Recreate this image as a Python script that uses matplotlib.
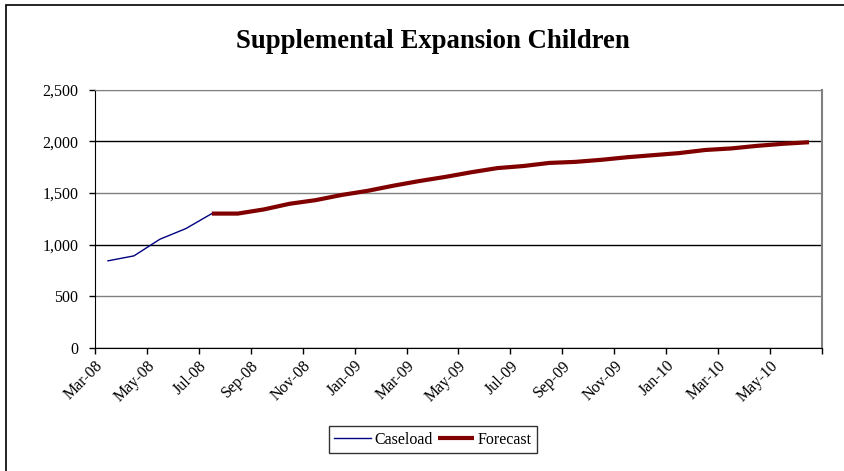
import matplotlib.pyplot as plt
from matplotlib.patches import Rectangle

months = ["Mar-08", "Apr-08", "May-08", "Jun-08", "Jul-08", "Aug-08", "Sep-08",
          "Oct-08", "Nov-08", "Dec-08", "Jan-09", "Feb-09", "Mar-09", "Apr-09",
          "May-09", "Jun-09", "Jul-09", "Aug-09", "Sep-09", "Oct-09", "Nov-09",
          "Dec-09", "Jan-10", "Feb-10", "Mar-10", "Apr-10", "May-10", "Jun-10"]
caseload = [843, 891, 1052, 1155, 1300]
forecast = [1300, 1300, 1340, 1395, 1430, 1480, 1520, 1570, 1615, 1655, 1700,
            1740, 1760, 1790, 1800, 1820, 1845, 1865, 1885, 1915, 1930, 1955,
            1975, 1990]
tick_labels = months[::2]

plt.rcParams['font.family'] = ['Liberation Serif', 'DejaVu Serif']

fig = plt.figure(figsize=(8.45, 4.71), dpi=100)
ax = fig.add_axes([95 / 845, 1 - 348 / 471, 727 / 845, 258.5 / 471])

x_case = list(range(len(caseload)))
x_fc = list(range(len(caseload) - 1, len(caseload) - 1 + len(forecast)))
ax.plot(x_case, caseload, color='#000080', lw=1.0, label='Caseload')
ax.plot(x_fc, forecast, color='#800000', lw=3.0, label='Forecast',
        solid_capstyle='butt')

ax.set_xlim(-0.5, len(months) - 0.5)
ax.set_ylim(0, 2500)
ax.set_yticks(range(0, 2501, 500))
ax.set_yticklabels([f"{v:,}" for v in range(0, 2501, 500)], fontsize=11.5)

ticks = [i - 0.5 for i in range(0, len(months) + 1, 2)]
ax.set_xticks(ticks)
ax.set_xticklabels(tick_labels + [""], rotation=45, ha='right',
                   rotation_mode='anchor', fontsize=11.5)
ax.tick_params(axis='x', length=4, width=1, pad=3)
ax.tick_params(axis='y', length=4, width=1, pad=8)

# horizontal grid, alternating dark / grey like the old spreadsheet export
ax.yaxis.grid(True, color='black', lw=1)
for i, gl in enumerate(ax.get_ygridlines()):
    if i % 2 == 1:
        gl.set_color('#808080')
ax.set_axisbelow(True)

ax.spines['left'].set_color('black')
ax.spines['bottom'].set_color('black')
ax.spines['top'].set_color('#808080')
ax.spines['right'].set_color('#808080')
ax.spines['right'].set_linewidth(1.5)

fig.text(433 / 845, 1 - 41 / 471, "Supplemental Expansion Children",
         ha='center', va='center', fontsize=19.3, fontweight='bold')

leg = fig.legend(loc='center', bbox_to_anchor=(433 / 845, 1 - 439.5 / 471),
                 ncol=2, fontsize=11.5, frameon=True, fancybox=False,
                 handlelength=2.3, handletextpad=0.2, columnspacing=0.3,
                 borderpad=0.35, borderaxespad=0)
leg.get_frame().set_edgecolor('black')
leg.get_frame().set_linewidth(1)

# outer chart border
fig.patches.append(Rectangle((6 / 845, -0.1), 1.1, 1 - 5 / 471 + 0.1,
                             transform=fig.transFigure, fill=False,
                             edgecolor='black', lw=1.2))

fig.savefig('out.png', dpi=100)
